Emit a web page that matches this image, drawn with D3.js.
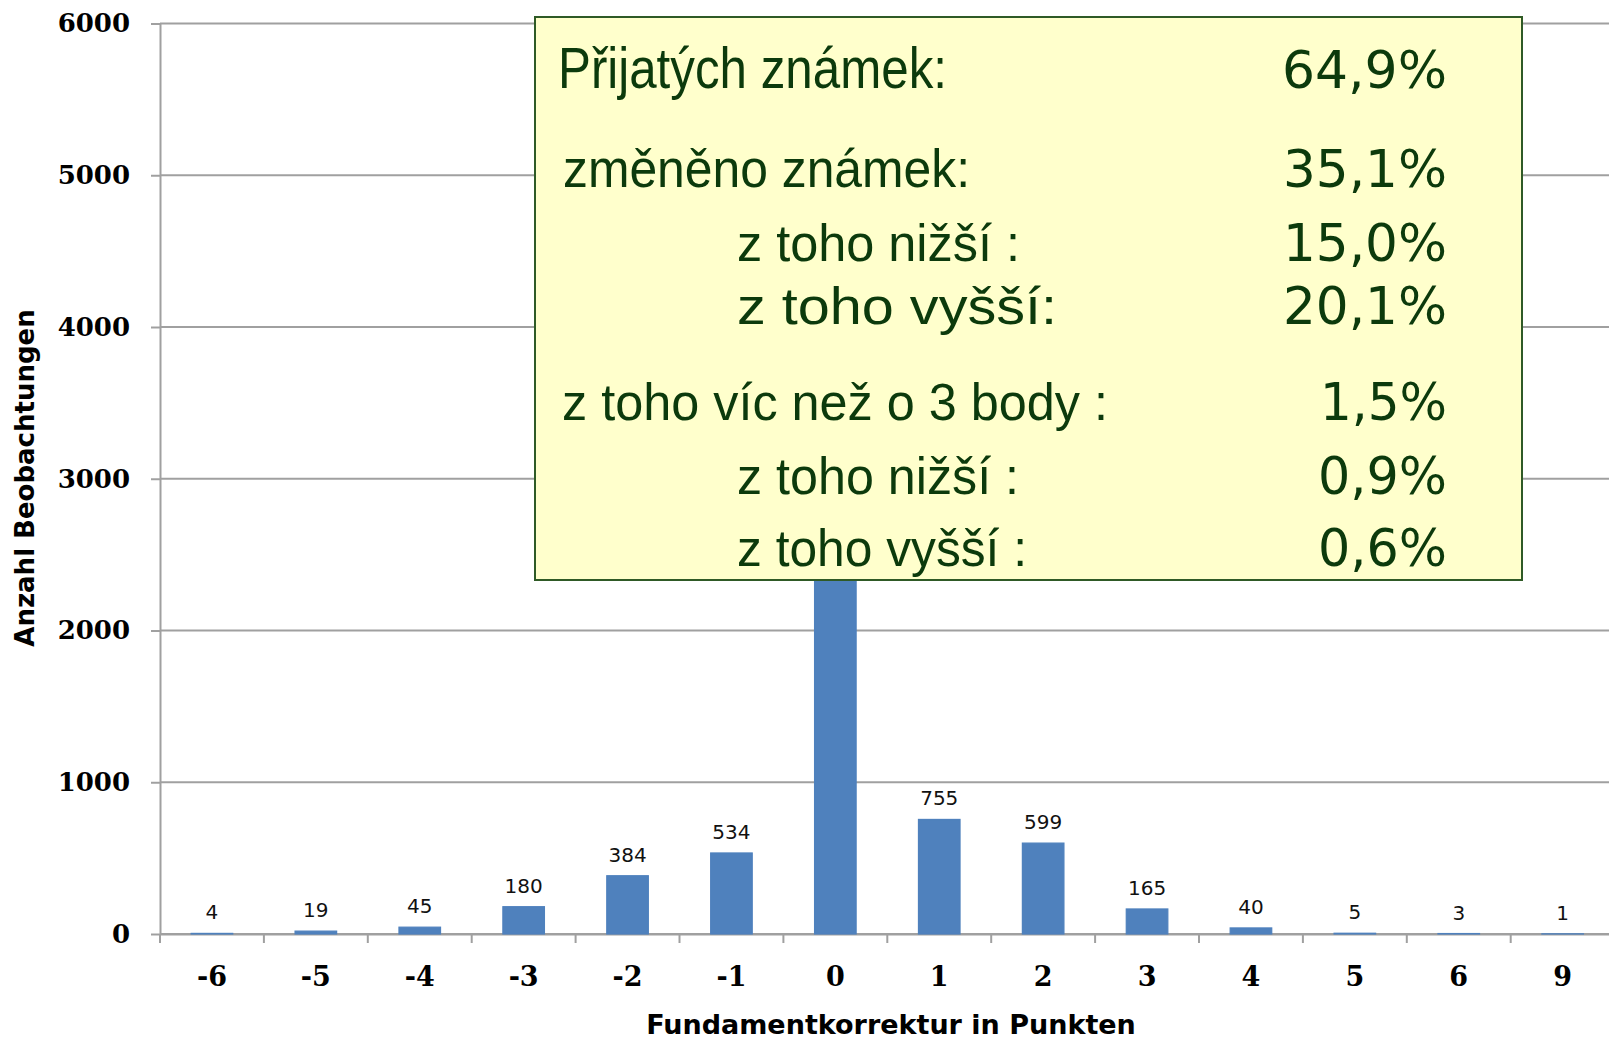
<!DOCTYPE html>
<html>
<head>
<meta charset="utf-8">
<script src="https://cdn.jsdelivr.net/npm/d3@7"></script>
<style>
  html, body { margin: 0; padding: 0; background: #fff; }
  svg { display: block; }
</style>
</head>
<body>
<div id="chart"></div>
<script>
// data
var categories = ["-6", "-5", "-4", "-3", "-2", "-1", "0", "1", "2", "3", "4", "5", "6", "9"];
var counts = [4, 19, 45, 180, 384, 534, 5055, 755, 599, 165, 40, 5, 3, 1];
var yTicks = [0, 1000, 2000, 3000, 4000, 5000, 6000];

var summaryLabels = ["Přijatých známek:", "změněno známek:", "z toho nižší :", "z toho vyšší:",
	"z toho víc než o 3 body :", "z toho nižší :", "z toho vyšší :"];
var summaryValues = ["64,9%", "35,1%", "15,0%", "20,1%", "1,5%", "0,9%", "0,6%"];

var xTitle = "Fundamentkorrektur in Punkten";
var yTitle = "Anzahl Beobachtungen";

var width = 1609, height = 1040;
var grid = "#a0a0a0", barColor = "#4f81bd", ink = "#0c3a0c";
var boxRect = {x: 535, y: 17, w: 987, h: 563};

var svg = d3.select("#chart").append("svg")
	.attr("width", width)
	.attr("height", height);

// scales
var x = d3.scaleBand()
	.domain(categories)
	.range([160, 1614.6])
	.paddingInner(0.6)
	.paddingOuter(0.3);
var y = d3.scaleLinear()
	.domain([0, 6000])
	.range([934, 23.5]);

// horizontal gridlines
svg.append("g")
	.selectAll("line")
	.data(yTicks)
	.enter().append("line")
	.attr("x1", 160)
	.attr("x2", width)
	.attr("y1", function (d) { return y(d); })
	.attr("y2", function (d) { return y(d); })
	.attr("stroke", grid)
	.attr("stroke-width", 2);

// y axis
var yAxis = svg.append("g")
	.attr("transform", "translate(160,0)")
	.call(d3.axisLeft(y).tickValues(yTicks).tickFormat(d3.format("d"))
		.tickSize(9).tickSizeOuter(0).tickPadding(21));
yAxis.select(".domain").attr("stroke", grid).attr("stroke-width", 2);
yAxis.selectAll(".tick line").attr("stroke", grid).attr("stroke-width", 2);
yAxis.selectAll("text")
	.attr("fill", "#000")
	.style("font-family", "'DejaVu Serif', serif")
	.style("font-weight", "bold")
	.style("font-size", "26px");

// x axis, ticks sit between the categories
var step = x.step();
var xAxis = svg.append("g")
	.attr("transform", "translate(0,934)")
	.call(d3.axisBottom(x).tickSize(9).tickSizeOuter(0).tickPadding(24));
xAxis.select(".domain").attr("stroke", grid).attr("stroke-width", 2);
xAxis.selectAll(".tick line")
	.attr("x1", -step / 2)
	.attr("x2", -step / 2)
	.attr("stroke", grid)
	.attr("stroke-width", 2);
xAxis.selectAll("text")
	.attr("fill", "#000")
	.style("font-family", "'DejaVu Serif', serif")
	.style("font-weight", "bold")
	.style("font-size", "27px");

// bars (drawn over the axis line, thin outline keeps the tiny ones visible)
svg.append("g")
	.selectAll("rect")
	.data(counts)
	.enter().append("rect")
	.attr("x", function (d, i) { return x(categories[i]); })
	.attr("y", function (d) { return y(d); })
	.attr("width", x.bandwidth())
	.attr("height", function (d) { return y(0) - y(d); })
	.attr("fill", barColor)
	.attr("stroke", barColor)
	.attr("stroke-width", 1.2);

// value labels; the one hidden under the summary box is left out
function underBox(d, i) {
	var lx = x(categories[i]) + x.bandwidth() / 2, ly = y(d) - 14;
	return lx > boxRect.x && lx < boxRect.x + boxRect.w && ly > boxRect.y && ly < boxRect.y + boxRect.h + 20;
}
svg.append("g")
	.selectAll("text")
	.data(counts.map(function (d, i) { return {v: d, i: i}; })
		.filter(function (o) { return !underBox(o.v, o.i); }))
	.enter().append("text")
	.attr("x", function (o) { return x(categories[o.i]) + x.bandwidth() / 2; })
	.attr("y", function (o) { return y(o.v) - 14; })
	.attr("text-anchor", "middle")
	.style("font-family", "'DejaVu Sans', Verdana, sans-serif")
	.style("font-size", "20px")
	.attr("fill", "#111")
	.text(function (o) { return o.v; });

// axis titles
svg.append("text")
	.attr("x", 891)
	.attr("y", 1033.5)
	.attr("text-anchor", "middle")
	.style("font-family", "'DejaVu Sans', Verdana, sans-serif")
	.style("font-weight", "bold")
	.style("font-size", "27px")
	.attr("fill", "#000")
	.text(xTitle);
svg.append("text")
	.attr("transform", "translate(34,478) rotate(-90)")
	.attr("text-anchor", "middle")
	.style("font-family", "'DejaVu Sans', Verdana, sans-serif")
	.style("font-weight", "bold")
	.style("font-size", "26px")
	.attr("fill", "#000")
	.text(yTitle);

// the yellow summary box, drawn over the chart
var box = svg.append("g");
box.append("rect")
	.attr("x", boxRect.x)
	.attr("y", boxRect.y)
	.attr("width", boxRect.w)
	.attr("height", boxRect.h)
	.attr("fill", "#ffffcc")
	.attr("stroke", "#2f5a26")
	.attr("stroke-width", 2);

// row layout: left x, baseline, font size, text width, narrow font or not
var rowX = [558, 563, 737, 737, 562, 737, 737];
var rowBase = [87.5, 186.5, 261, 324, 420, 493.5, 566];
var rowSize = [58, 54, 52, 52, 52, 52, 52];
var rowWidth = [389, 407, 283, 320, 546, 282, 290];
var rowNarrow = [true, true, true, false, true, true, true];
var valWidth = [165, 164, 164, 164, 127, 129, 129];

box.selectAll("text.lbl")
	.data(summaryLabels)
	.enter().append("text")
	.attr("class", "lbl")
	.attr("x", function (d, i) { return rowX[i]; })
	.attr("y", function (d, i) { return rowBase[i]; })
	.attr("textLength", function (d, i) { return rowWidth[i]; })
	.attr("lengthAdjust", "spacingAndGlyphs")
	.style("font-family", function (d, i) {
		return rowNarrow[i] ? "'Liberation Sans Narrow', 'Arial Narrow', 'Liberation Sans', sans-serif"
			: "'Liberation Sans', Arial, sans-serif";
	})
	.style("font-size", function (d, i) { return rowSize[i] + "px"; })
	.attr("fill", ink)
	.text(function (d) { return d; });

box.selectAll("text.val")
	.data(summaryValues)
	.enter().append("text")
	.attr("class", "val")
	.attr("x", 1447)
	.attr("y", function (d, i) { return rowBase[i]; })
	.attr("text-anchor", "end")
	.attr("textLength", function (d, i) { return valWidth[i]; })
	.attr("lengthAdjust", "spacingAndGlyphs")
	.style("font-family", "'DejaVu Sans', Verdana, sans-serif")
	.style("font-size", "51px")
	.attr("fill", ink)
	.text(function (d) { return d; });
</script>
</body>
</html>
